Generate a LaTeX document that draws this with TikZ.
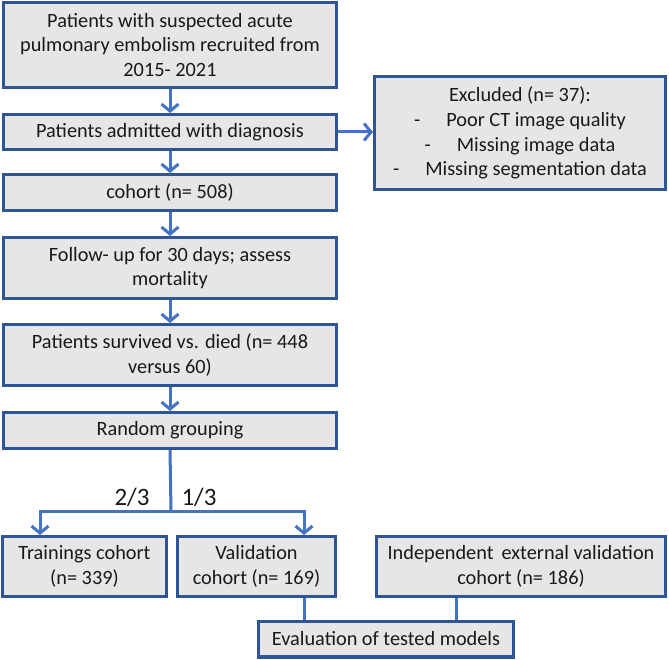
\documentclass[tikz,border=0pt]{standalone}
\usepackage{fontspec}
\setmainfont{Carlito}
\usetikzlibrary{arrows.meta}
\definecolor{boxblue}{HTML}{2F5597}
\definecolor{arrblue}{HTML}{4472C4}
\definecolor{boxfill}{HTML}{E7E6E6}
\begin{document}
\begin{tikzpicture}[x=1pt,y=-1pt,
  box/.style={draw=boxblue,fill=boxfill,line width=3.4pt,align=center,inner sep=1pt,
    font=\fontsize{20.3}{24.8}\selectfont,text=black!90},
  conn/.style={draw=arrblue,line width=3pt},
  arr/.style={conn,-{Straight Barb[length=7pt,width=17pt,line width=3pt]}}]
\useasboundingbox (0,0) rectangle (669,660);
\node[box,minimum width=333pt,minimum height=84.6pt] (b1) at (170,45)
  {Patients with suspected acute\\pulmonary embolism recruited from\\2015- 2021};
\node[box,minimum width=333pt,minimum height=34.6pt] (b2) at (170,132)
  {Patients admitted with diagnosis};
\node[box,minimum width=333pt,minimum height=35.6pt] (b3) at (170,192.5)
  {cohort (n= 508)};
\node[box,minimum width=333pt,minimum height=60.6pt] (b4) at (170,268)
  {Follow- up for 30 days; assess\\mortality};
\node[box,minimum width=333pt,minimum height=60.6pt] (b5) at (170,355)
  {Patients survived vs. died (n= 448\\versus 60)};
\node[box,minimum width=333pt,minimum height=35.6pt] (b6) at (170,430.5)
  {Random grouping};
\node[box,minimum width=290.6pt,minimum height=112.6pt] (ex) at (520,133)
  {Excluded (n= 37):\\-\hspace{26pt}Poor CT image quality\\-\hspace{26pt}Missing image data\\-\hspace{26pt}Missing segmentation data};
\node[box,minimum width=163.6pt,minimum height=59.6pt] (tr) at (84.5,566.5)
  {Trainings cohort\\(n= 339)};
\node[box,minimum width=157.6pt,minimum height=59.6pt] (va) at (256.5,566.5)
  {Validation\\cohort (n= 169)};
\node[box,minimum width=288.6pt,minimum height=59.6pt] (in) at (521,566.5)
  {Independent\, external validation\\cohort (n= 186)};
\node[box,minimum width=254.6pt,minimum height=35.6pt] (ev) at (386,639)
  {Evaluation of tested models};
\draw[arr] (b1) -- (b2);
\draw[arr] (b2) -- (b3);
\draw[arr] (b3) -- (b4);
\draw[arr] (b4) -- (b5);
\draw[arr] (b5) -- (b6);
\draw[arr] (b2.east) -- (ex.west |- b2.east);
\coordinate (split) at (171,511);
\coordinate (sl) at (40,511);
\coordinate (sr) at (304,511);
\coordinate (vb) at (304,0);
\coordinate (ib) at (456,0);
\draw[conn] (b6.south) -- (split);
\draw[arr] (split) -- (sl) -- (sl |- tr.north);
\draw[arr] (split) -- (sr) -- (sr |- va.north);
\node[font=\fontsize{25}{28}\selectfont,text=black!90] (l23) at (132,497) {2/3};
\node[font=\fontsize{25}{28}\selectfont,text=black!90] (l13) at (199,497) {1/3};
\draw[conn] (vb |- va.south) -- (vb |- ev.north);
\draw[conn] (ib |- in.south) -- (ib |- ev.north);
\end{tikzpicture}
\end{document}
